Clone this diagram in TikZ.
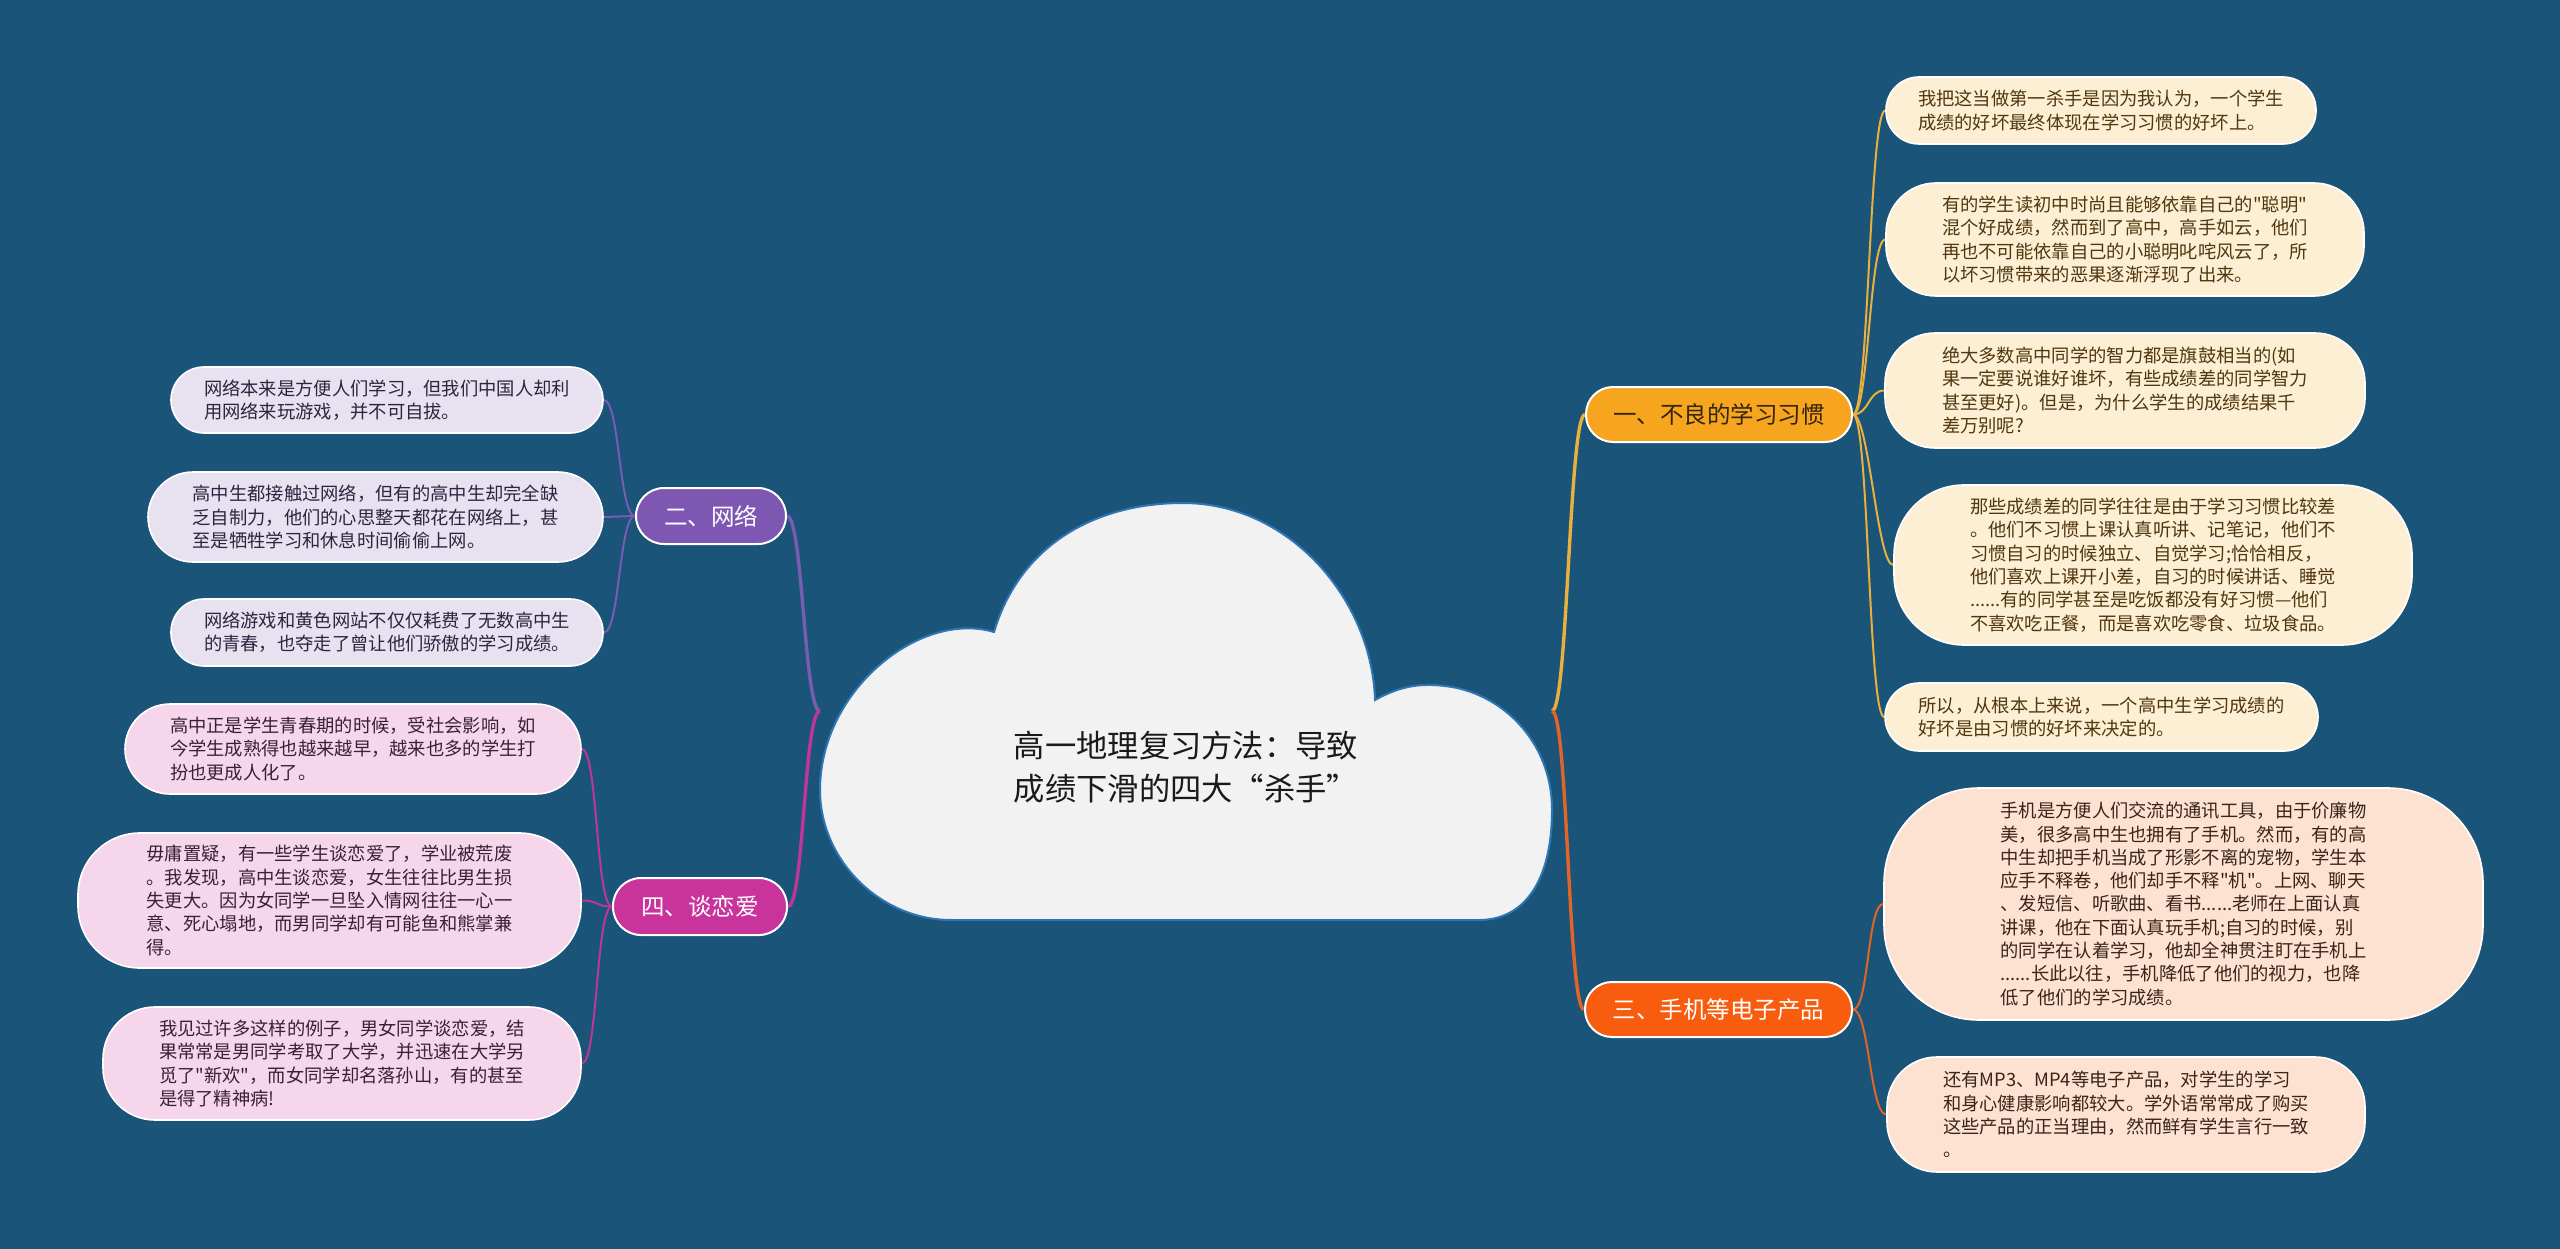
\documentclass[tikz,border=0pt]{standalone}
\usepackage{fontspec}
\setmainfont{Noto Sans CJK SC}[Ligatures=TeXOff]
\pgfdeclarelayer{bglayer}
\pgfdeclarelayer{linelayer}
\pgfsetlayers{bglayer,linelayer,main}
\definecolor{bgc}{RGB}{26,84,120}
\definecolor{cloudc}{RGB}{242,242,242}
\definecolor{cloudb}{RGB}{46,117,182}
\definecolor{titlec}{RGB}{26,26,26}
\definecolor{nA}{RGB}{247,165,30}
\definecolor{nB}{RGB}{125,87,178}
\definecolor{nC}{RGB}{248,92,14}
\definecolor{nD}{RGB}{200,52,155}
\definecolor{lA}{RGB}{232,176,60}
\definecolor{lB}{RGB}{120,92,180}
\definecolor{lC}{RGB}{226,100,40}
\definecolor{lD}{RGB}{190,55,150}
\definecolor{fA}{RGB}{253,239,212}
\definecolor{fB}{RGB}{231,225,240}
\definecolor{fC}{RGB}{253,226,210}
\definecolor{fD}{RGB}{246,214,234}
\definecolor{tA}{RGB}{80,55,15}
\definecolor{tB}{RGB}{43,37,64}
\definecolor{tC}{RGB}{58,36,24}
\definecolor{tD}{RGB}{58,32,53}
\definecolor{tN}{RGB}{50,38,15}
\tikzset{
  leaf/.style={draw=white, line width=1.6pt, align=left, inner sep=0pt,
    font=\fontsize{18.3}{23.3}\selectfont},
  branch/.style={draw=white, line width=2pt, inner sep=0pt,
    font=\fontsize{23.5}{28}\selectfont},
  link/.style={line width=2pt},
  mainlink/.style={line width=3.4pt},
}
\begin{document}
\begin{tikzpicture}[x=1pt,y=-1pt]
\begin{pgfonlayer}{bglayer}
\fill[bgc] (0,0) rectangle (2560,1249);
\end{pgfonlayer}
\useasboundingbox (0,0) rectangle (2560,1249);

% central cloud
\filldraw[fill=cloudc, draw=cloudb, line width=2pt]
  (951,920) .. controls (880,920) and (820,860) .. (820,790)
  .. controls (820,690) and (920,610) .. (994,632)
  .. controls (1020,545) and (1095,503) .. (1183,503)
  .. controls (1290,503) and (1372,600) .. (1375,700)
  .. controls (1400,686) and (1420,683) .. (1445,686)
  .. controls (1500,692) and (1552,740) .. (1552,810)
  .. controls (1552,880) and (1525,920) .. (1479,920) -- cycle;
\node[align=left, text=titlec, font=\fontsize{31.3}{43}\selectfont, inner sep=0pt] (root) at (1186,767.5)
  {高一地理复习方法：导致\\成绩下滑的四大“杀手”};
\coordinate (cR) at (1552,711);
\coordinate (cL) at (820,711);

% branch nodes
\node[branch, fill=nA, text=tN, minimum width=266pt, minimum height=55pt, rounded corners=27pt] (b1) at (1719,414.5) {一、不良的学习习惯};
\node[branch, fill=nC, text=white, minimum width=267pt, minimum height=55pt, rounded corners=27pt] (b3) at (1718.5,1009.5) {三、手机等电子产品};
\node[branch, fill=nB, text=white, minimum width=150pt, minimum height=56pt, rounded corners=28pt] (b2) at (711,516) {二、网络};
\node[branch, fill=nD, text=white, minimum width=174pt, minimum height=57pt, rounded corners=28pt] (b4) at (700,906.5) {四、谈恋爱};

% right leaves, group 1
\node[leaf, fill=fA, text=tA, minimum width=430pt, minimum height=67pt, rounded corners=33pt] (r1) at (2101,110.5)
  {我把这当做第一杀手是因为我认为，一个学生\\成绩的好坏最终体现在学习习惯的好坏上。};
\node[leaf, fill=fA, text=tA, minimum width=478pt, minimum height=113pt, rounded corners=50pt] (r2) at (2125,239.5)
  {有的学生读初中时尚且能够依靠自己的"聪明"\\混个好成绩，然而到了高中，高手如云，他们\\再也不可能依靠自己的小聪明叱咤风云了，所\\以坏习惯带来的恶果逐渐浮现了出来。};
\node[leaf, fill=fA, text=tA, minimum width=480pt, minimum height=115pt, rounded corners=50pt] (r3) at (2125,390.5)
  {绝大多数高中同学的智力都是旗鼓相当的(如\\果一定要说谁好谁坏，有些成绩差的同学智力\\甚至更好)。但是，为什么学生的成绩结果千\\差万别呢?};
\node[leaf, fill=fA, text=tA, minimum width=518pt, minimum height=160pt, rounded corners=70pt] (r4) at (2153,565)
  {那些成绩差的同学往往是由于学习习惯比较差\\。他们不习惯上课认真听讲、记笔记，他们不\\习惯自习的时候独立、自觉学习;恰恰相反，\\他们喜欢上课开小差，自习的时候讲话、睡觉\\......有的同学甚至是吃饭都没有好习惯—他们\\不喜欢吃正餐，而是喜欢吃零食、垃圾食品。};
\node[leaf, fill=fA, text=tA, minimum width=433pt, minimum height=68pt, rounded corners=34pt] (r5) at (2101.5,717)
  {所以，从根本上来说，一个高中生学习成绩的\\好坏是由习惯的好坏来决定的。};

% right leaves, group 3
\node[leaf, fill=fC, text=tC, minimum width=599pt, minimum height=232pt, rounded corners=95pt] (r6) at (2183.5,904)
  {手机是方便人们交流的通讯工具，由于价廉物\\美，很多高中生也拥有了手机。然而，有的高\\中生却把手机当成了形影不离的宠物，学生本\\应手不释卷，他们却手不释"机"。上网、聊天\\、发短信、听歌曲、看书......老师在上面认真\\讲课，他在下面认真玩手机;自习的时候，别\\的同学在认着学习，他却全神贯注盯在手机上\\......长此以往，手机降低了他们的视力，也降\\低了他们的学习成绩。};
\node[leaf, fill=fC, text=tC, minimum width=478pt, minimum height=115pt, rounded corners=50pt] (r7) at (2126,1114.5)
  {还有MP3、MP4等电子产品，对学生的学习\\和身心健康影响都较大。学外语常常成了购买\\这些产品的正当理由，然而鲜有学生言行一致\\。};

% left leaves, group 2
\node[leaf, fill=fB, text=tB, minimum width=432pt, minimum height=66pt, rounded corners=33pt] (l1) at (387,400)
  {网络本来是方便人们学习，但我们中国人却利\\用网络来玩游戏，并不可自拔。};
\node[leaf, fill=fB, text=tB, minimum width=455pt, minimum height=90pt, rounded corners=45pt] (l2) at (375.5,517)
  {高中生都接触过网络，但有的高中生却完全缺\\乏自制力，他们的心思整天都花在网络上，甚\\至是牺牲学习和休息时间偷偷上网。};
\node[leaf, fill=fB, text=tB, minimum width=432pt, minimum height=67pt, rounded corners=33pt] (l3) at (387,632.5)
  {网络游戏和黄色网站不仅仅耗费了无数高中生\\的青春，也夺走了曾让他们骄傲的学习成绩。};

% left leaves, group 4
\node[leaf, fill=fD, text=tD, minimum width=456pt, minimum height=90pt, rounded corners=45pt] (p1) at (353,749)
  {高中正是学生青春期的时候，受社会影响，如\\今学生成熟得也越来越早，越来也多的学生打\\扮也更成人化了。};
\node[leaf, fill=fD, text=tD, minimum width=503pt, minimum height=135pt, rounded corners=62pt] (p2) at (329.5,900.5)
  {毋庸置疑，有一些学生谈恋爱了，学业被荒废\\。我发现，高中生谈恋爱，女生往往比男生损\\失更大。因为女同学一旦坠入情网往往一心一\\意、死心塌地，而男同学却有可能鱼和熊掌兼\\得。};
\node[leaf, fill=fD, text=tD, minimum width=478pt, minimum height=113pt, rounded corners=52pt] (p3) at (342,1063.5)
  {我见过许多这样的例子，男女同学谈恋爱，结\\果常常是男同学考取了大学，并迅速在大学另\\觅了"新欢"，而女同学却名落孙山，有的甚至\\是得了精神病!};

% connectors
\begin{pgfonlayer}{linelayer}
\draw[mainlink, lA] (cR) .. controls +(16,0) and +(-16,0) .. (b1.west);
\draw[mainlink, lC] (cR) .. controls +(16,0) and +(-16,0) .. (b3.west);
\draw[mainlink, lB] (cL) .. controls +(-16,0) and +(16,0) .. (b2.east);
\draw[mainlink, lD] (cL) .. controls +(-16,0) and +(16,0) .. (b4.east);
\foreach \t in {r1,r2,r3,r4,r5}
  \draw[link, lA] (b1.east) .. controls +(16,0) and +(-16,0) .. (\t.west);
\foreach \t in {r6,r7}
  \draw[link, lC] (b3.east) .. controls +(16,0) and +(-16,0) .. (\t.west);
\foreach \t in {l1,l2,l3}
  \draw[link, lB] (b2.west) .. controls +(-16,0) and +(16,0) .. (\t.east);
\foreach \t in {p1,p2,p3}
  \draw[link, lD] (b4.west) .. controls +(-16,0) and +(16,0) .. (\t.east);
\end{pgfonlayer}
\end{tikzpicture}
\end{document}
